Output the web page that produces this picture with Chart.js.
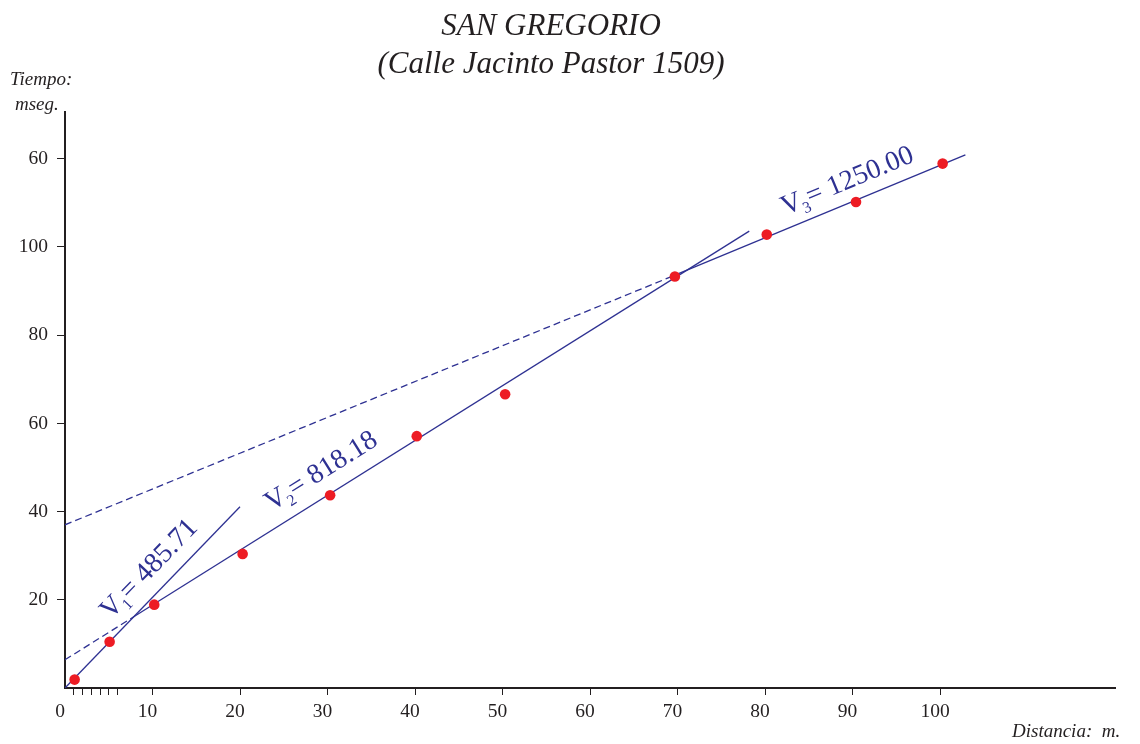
<!DOCTYPE html>
<html>
<head>
<meta charset="utf-8">
<script src="https://cdn.jsdelivr.net/npm/chart.js@4/dist/chart.umd.min.js"></script>
<style>
  body { margin: 0; background: #fff; }
  #caja { width: 1140px; height: 744px; }
</style>
</head>
<body>
<div id="caja"><canvas id="dromocronica"></canvas></div>
<script>
// lecturas de campo
var distancias = [1.1, 5.1, 10.2, 20.3, 30.3, 40.2, 50.3, 69.7, 80.2, 90.4, 100.3];
var tiempos = [1.9, 10.5, 18.9, 30.4, 43.7, 57.1, 66.6, 93.3, 102.8, 110.2, 118.9];

// rectas ajustadas (extremos)
var v1X = [0, 20.0];
var v1Y = [0, 41.1];
var v2DashX = [0, 7.9];
var v2DashY = [6.4, 16.2];
var v2X = [7.9, 78.2];
var v2Y = [16.2, 103.6];
var v3DashX = [0, 69.7];
var v3DashY = [37.0, 93.6];
var v3X = [69.7, 102.9];
var v3Y = [93.6, 120.9];

// ejes
var xTicks = [0, 1, 2, 3, 4, 5, 6, 10, 20, 30, 40, 50, 60, 70, 80, 90, 100];
var yTicks = [20, 40, 60, 80, 100, 120];
var yTickLabels = ["20", "40", "60", "80", "100", "60"];

var velocidades = ["485.71", "818.18", "1250.00"];

var azul = "#2e3192";
var negro = "#231f20";
var serif = "'Liberation Serif', 'Times New Roman', serif";

function puntos(xs, ys) {
    return xs.map(function (x, i) { return { x: x, y: ys[i] }; });
}

function recta(xs, ys, dash) {
    return {
        data: puntos(xs, ys),
        showLine: true,
        borderColor: azul,
        borderWidth: 1.3,
        borderDash: dash ? [7, 4] : [],
        pointRadius: 0,
        fill: false
    };
}

// etiquetas de velocidad: inicio de la linea base y recta de referencia
var etiquetas = [
    { n: "1", at: [5.2, 15.4], xs: v1X, ys: v1Y },
    { n: "2", at: [23.6, 40.0], xs: v2X, ys: v2Y },
    { n: "3", at: [82.3, 107.2], xs: v3X, ys: v3Y }
];

var textos = {
    id: "textos",
    afterDraw: function (chart) {
        var c = chart.ctx;
        var sx = chart.scales.x, sy = chart.scales.y;
        c.save();
        c.fillStyle = negro;
        c.textAlign = "center";
        c.textBaseline = "alphabetic";
        c.font = "italic 31px " + serif;
        c.fillText("SAN GREGORIO", 551, 35);
        c.fillText("(Calle Jacinto Pastor 1509)", 551, 73);

        c.font = "italic 19px " + serif;
        c.textAlign = "left";
        c.fillText("Tiempo:", 10, 85);
        c.fillText("mseg.", 15, 110);
        c.fillText("Distancia:  m.", 1012, 737);

        c.fillStyle = azul;
        etiquetas.forEach(function (e, i) {
            var x1 = sx.getPixelForValue(e.xs[0]), y1 = sy.getPixelForValue(e.ys[0]);
            var x2 = sx.getPixelForValue(e.xs[1]), y2 = sy.getPixelForValue(e.ys[1]);
            var ang = Math.atan2(y2 - y1, x2 - x1);
            c.save();
            c.translate(sx.getPixelForValue(e.at[0]), sy.getPixelForValue(e.at[1]));
            c.rotate(ang);
            c.textAlign = "left";
            c.font = "28px " + serif;
            c.fillText("V", 0, 0);
            var w = c.measureText("V").width;
            c.font = "16px " + serif;
            c.fillText(e.n, w - 1, 6);
            var w2 = c.measureText(e.n).width;
            c.font = "28px " + serif;
            c.fillText("= " + velocidades[i], w + w2 - 1, 0);
            c.restore();
        });
        c.restore();
    }
};

new Chart(document.getElementById("dromocronica"), {
    type: "scatter",
    data: {
        datasets: [
            {
                data: puntos(distancias, tiempos),
                backgroundColor: "#ed1c24",
                borderWidth: 0,
                pointRadius: 5.3
            },
            recta(v1X, v1Y, false),
            recta(v2DashX, v2DashY, true),
            recta(v2X, v2Y, false),
            recta(v3DashX, v3DashY, true),
            recta(v3X, v3Y, false)
        ]
    },
    options: {
        responsive: true,
        maintainAspectRatio: false,
        animation: false,
        layout: { padding: { top: 112, right: 25, left: 0, bottom: 0 } },
        plugins: { legend: { display: false }, tooltip: { enabled: false } },
        scales: {
            x: {
                type: "linear",
                min: 0,
                max: 120,
                afterBuildTicks: function (axis) {
                    axis.ticks = xTicks.map(function (v) { return { value: v }; });
                },
                afterFit: function (axis) { axis.height = 56; },
                border: { display: true, color: negro, width: 2 },
                grid: {
                    drawOnChartArea: false,
                    drawTicks: true,
                    tickLength: 7,
                    lineWidth: 1,
                    tickColor: function (ctx) {
                        return ctx.tick && ctx.tick.value === 0 ? "rgba(0,0,0,0)" : negro;
                    }
                },
                ticks: {
                    autoSkip: false,
                    maxRotation: 0,
                    padding: 5,
                    labelOffset: -5,
                    color: negro,
                    font: { family: serif, size: 19.5 },
                    callback: function (v) { return v % 10 === 0 ? String(v) : ""; }
                }
            },
            y: {
                type: "linear",
                min: 0,
                max: 130.6,
                afterBuildTicks: function (axis) {
                    axis.ticks = yTicks.map(function (v) { return { value: v }; });
                },
                afterFit: function (axis) { axis.width = 65; },
                border: { display: true, color: negro, width: 2 },
                grid: {
                    drawOnChartArea: false,
                    drawTicks: true,
                    tickLength: 8,
                    lineWidth: 1,
                    tickColor: negro
                },
                ticks: {
                    autoSkip: false,
                    padding: 9,
                    color: negro,
                    font: { family: serif, size: 19.5 },
                    callback: function (v, i) { return yTickLabels[i]; }
                }
            }
        }
    },
    plugins: [textos]
});
</script>
</body>
</html>
